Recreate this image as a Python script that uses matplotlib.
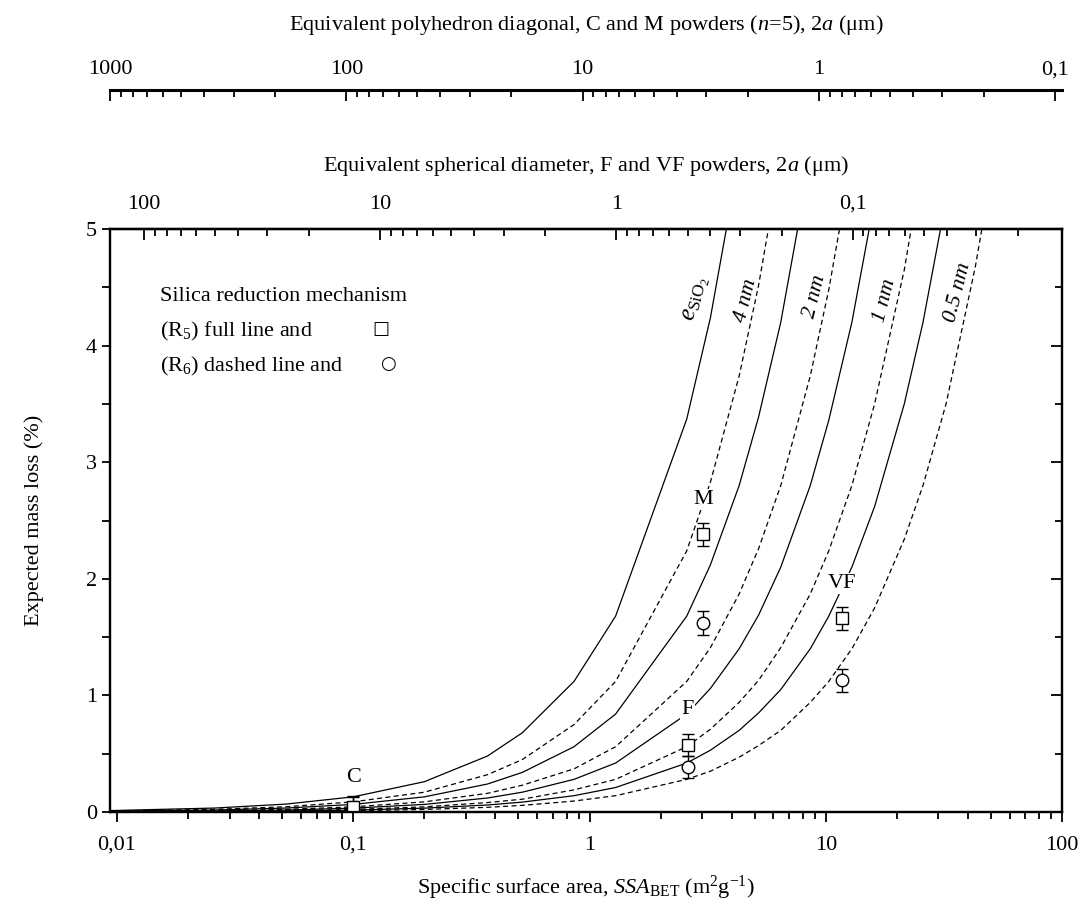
import numpy as np
import matplotlib
matplotlib.use('Agg')
import matplotlib.pyplot as plt
from matplotlib.ticker import FuncFormatter, FixedLocator, LogLocator, MultipleLocator, NullFormatter

plt.rcParams['font.family'] = ['Liberation Serif', 'DejaVu Sans']
plt.rcParams['mathtext.fontset'] = 'custom'
plt.rcParams['mathtext.rm'] = 'Liberation Serif'
plt.rcParams['mathtext.it'] = 'Liberation Serif:italic'
plt.rcParams['font.size'] = 16

# SSA sampling points of the model curves (m2/g)
ssa_grid = [0.0093, 0.026, 0.052, 0.1, 0.2, 0.37, 0.52, 0.86, 1.29, 2.58,
            3.25, 4.3, 5.2, 6.45, 8.6, 10.3, 12.9, 16.1, 21.5, 25.8,
            32.3, 43, 52, 64.5]

# expected mass loss (%) - R5 full lines, R6 dashed lines
r5_4nm = [0.012, 0.034, 0.068, 0.13, 0.26, 0.48, 0.68, 1.12, 1.68, 3.37, 4.24, 5.61]
r6_4nm = [0.008, 0.023, 0.045, 0.087, 0.17, 0.32, 0.45, 0.75, 1.12, 2.24, 2.83, 3.74,
          4.52, 5.61]
r5_2nm = [0.006, 0.017, 0.034, 0.065, 0.13, 0.24, 0.34, 0.56, 0.84, 1.68, 2.12, 2.8,
          3.39, 4.2, 5.6]
r6_2nm = [0.004, 0.011, 0.023, 0.044, 0.087, 0.16, 0.23, 0.37, 0.56, 1.12, 1.41, 1.87,
          2.26, 2.8, 3.74, 4.48, 5.6]
r5_1nm = [0.003, 0.0085, 0.017, 0.033, 0.065, 0.12, 0.17, 0.28, 0.42, 0.84, 1.06, 1.4,
          1.69, 2.1, 2.8, 3.36, 4.2, 5.25]
r6_1nm = [0.002, 0.0057, 0.011, 0.022, 0.044, 0.081, 0.11, 0.19, 0.28, 0.56, 0.71, 0.94,
          1.13, 1.41, 1.87, 2.24, 2.8, 3.5, 4.65, 5.6]
r5_05nm = [0.0015, 0.0042, 0.0085, 0.016, 0.033, 0.06, 0.085, 0.14, 0.21, 0.42, 0.53,
           0.70, 0.85, 1.05, 1.4, 1.68, 2.1, 2.62, 3.5, 4.2, 5.25]
r6_05nm = [0.001, 0.0028, 0.0057, 0.011, 0.022, 0.04, 0.057, 0.094, 0.14, 0.28, 0.35,
           0.47, 0.57, 0.70, 0.94, 1.12, 1.4, 1.75, 2.34, 2.8, 3.5, 4.68, 5.65]

thickness_labels = ['4 nm', '2 nm', '1 nm', '0.5 nm']
thickness_label_x = [4.61, 8.97, 17.8, 36.3]
thickness_label_y = [4.39, 4.42, 4.39, 4.46]

# measured powders
powders = ['C', 'F', 'M', 'VF']
powder_ssa = [0.1, 2.6, 3.02, 11.7]
loss_r5 = [0.045, 0.575, 2.38, 1.66]
err_r5 = [0.09, 0.095, 0.1, 0.097]
loss_r6 = [0.035, 0.385, 1.62, 1.13]
err_r6 = [0.09, 0.095, 0.1, 0.1]
powder_label_y = [0.30, 0.88, 2.68, 1.96]

# size conversions: 2a = K / SSA
k_sphere = 1.3
k_poly = 9.35
sphere_ticks = [100, 10, 1, 0.1]
poly_ticks = [1000, 100, 10, 1, 0.1]


def comma(v, pos):
    return f'{v:g}'.replace('.', ',')


def inv_sphere(x):
    x = np.asarray(x, dtype=float)
    return k_sphere / np.where(x == 0, 1e-12, x)


def inv_poly(x):
    x = np.asarray(x, dtype=float)
    return k_poly / np.where(x == 0, 1e-12, x)


fig = plt.figure(figsize=(10.86, 9.11), dpi=100)
ax = fig.add_axes([110 / 1086, 99 / 911, 952 / 1086, 583 / 911])

dash = (0, (4, 2.7))
lw = 0.9
pairs = [(r5_4nm, r6_4nm), (r5_2nm, r6_2nm), (r5_1nm, r6_1nm), (r5_05nm, r6_05nm)]
for full, dashed in pairs:
    ax.plot(ssa_grid[:len(full)], full, color='black', lw=lw)
    ax.plot(ssa_grid[:len(dashed)], dashed, color='black', lw=lw, linestyle=dash)

ax.errorbar(powder_ssa, loss_r6, yerr=err_r6, fmt='o', ms=9, mfc='white', mec='black',
            mew=1, ecolor='black', elinewidth=1, capsize=4.5, capthick=1, zorder=4)
ax.errorbar(powder_ssa, loss_r5, yerr=err_r5, fmt='s', ms=8, mfc='white', mec='black',
            mew=1, ecolor='black', elinewidth=1, capsize=4.5, capthick=1, zorder=5)

for name, x, y in zip(powders, powder_ssa, powder_label_y):
    ax.text(x, y, name, ha='center', va='center', fontsize=16, zorder=6,
            bbox=dict(facecolor='white', edgecolor='none', pad=1))

ax.text(2.85, 4.4, r'$e_{\rm SiO_2}$', rotation=76, ha='center', va='center', fontsize=18)
for lab, x, y in zip(thickness_labels, thickness_label_x, thickness_label_y):
    ax.text(x, y, lab, rotation=76, ha='center', va='center', fontsize=16, style='italic')

# legend block
ax.text(0.052, 0.885, 'Silica reduction mechanism', transform=ax.transAxes, va='center')
ax.text(0.052, 0.825, r'(R$_5$) full line and', transform=ax.transAxes, va='center')
ax.text(0.052, 0.765, r'(R$_6$) dashed line and', transform=ax.transAxes, va='center')
ax.text(0.285, 0.828, '\u25a1', transform=ax.transAxes, va='center', ha='center',
        fontsize=13, family='DejaVu Sans')
ax.text(0.292, 0.768, '\u25cb', transform=ax.transAxes, va='center', ha='center',
        fontsize=13, family='DejaVu Sans')

ax.set_xscale('log')
ax.set_xlim(0.00934, 100)
ax.set_ylim(0, 5)
ax.xaxis.set_major_locator(LogLocator(base=10))
ax.xaxis.set_minor_locator(LogLocator(base=10, subs=np.arange(2, 10)))
ax.xaxis.set_major_formatter(FuncFormatter(comma))
ax.xaxis.set_minor_formatter(NullFormatter())
ax.yaxis.set_major_locator(MultipleLocator(1))
ax.yaxis.set_minor_locator(MultipleLocator(0.5))

for s in ax.spines.values():
    s.set_linewidth(1.6)
ax.tick_params(axis='x', which='both', top=False, direction='out', width=1.3, labelsize=16, pad=10)
ax.tick_params(axis='x', which='major', length=7)
ax.tick_params(axis='x', which='minor', length=5)
ax.tick_params(axis='y', which='both', left=True, right=False, direction='out', width=1.3,
               length=6, labelsize=16)

ax.set_xlabel(r'Specific surface area, $\it{SSA}_{\rm BET}$ (m$^2$g$^{-1}$)', labelpad=14)
ax.set_ylabel('Expected mass loss (%)', labelpad=30)

# right ticks point inward: draw via twin y axis
axr = ax.twinx()
axr.set_ylim(0, 5)
axr.yaxis.set_major_locator(MultipleLocator(1))
axr.yaxis.set_minor_locator(MultipleLocator(0.5))
axr.tick_params(axis='y', which='both', direction='in', width=1.3, labelright=False)
axr.tick_params(axis='y', which='major', length=8)
axr.tick_params(axis='y', which='minor', length=5)
for s in axr.spines.values():
    s.set_linewidth(1.6)

# spherical diameter axis on top spine
sec = ax.secondary_xaxis('top', functions=(inv_sphere, inv_sphere))
sec.xaxis.set_major_locator(FixedLocator(sphere_ticks))
sec.xaxis.set_minor_locator(LogLocator(base=10, subs=np.arange(2, 10)))
sec.xaxis.set_major_formatter(FuncFormatter(comma))
sec.xaxis.set_minor_formatter(NullFormatter())
sec.tick_params(which='both', direction='in', width=1.3, labelsize=16, pad=11)
sec.tick_params(which='major', length=8)
sec.tick_params(which='minor', length=5)
sec.spines['top'].set_linewidth(1.6)
sec.set_xlabel(r'Equivalent spherical diameter, F and VF powders, 2$a$ ($\mathrm{\mu}$m)', labelpad=17)

# polyhedron diagonal axis floating above
sec2 = ax.secondary_xaxis(1.238, functions=(inv_poly, inv_poly))
sec2.xaxis.set_major_locator(FixedLocator(poly_ticks))
sec2.xaxis.set_minor_locator(LogLocator(base=10, subs=np.arange(2, 10)))
sec2.xaxis.set_major_formatter(FuncFormatter(comma))
sec2.xaxis.set_minor_formatter(NullFormatter())
sec2.tick_params(which='both', direction='in', width=1.3, labelsize=16, pad=8)
sec2.tick_params(which='major', length=8)
sec2.tick_params(which='minor', length=5)
sec2.spines['top'].set_linewidth(2.2)
sec2.set_xlabel(r'Equivalent polyhedron diagonal, C and M powders ($n$=5), 2$a$ ($\mathrm{\mu}$m)', labelpad=22)

fig.savefig('out.png', dpi=100)
